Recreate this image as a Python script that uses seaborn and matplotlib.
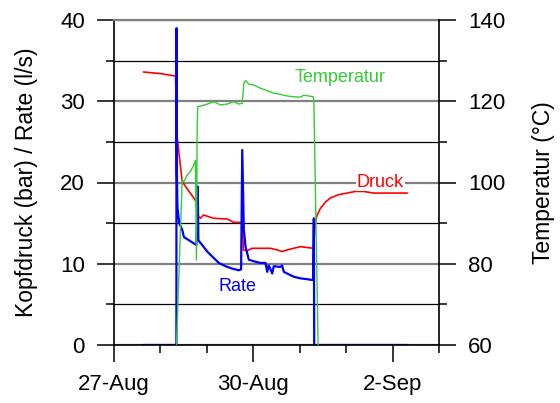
import matplotlib
matplotlib.use("Agg")
import matplotlib.pyplot as plt
import matplotlib.dates as mdates
from matplotlib.ticker import FixedLocator, FixedFormatter
import pandas as pd
import seaborn as sns

# Elapsed logger hours are counted from this instant
start = pd.Timestamp("2007-08-27 00:00")

# Kopfdruck (bar)
druck_hours = [15.25, 24.0, 31.8, 32.7, 35.25, 42.1, 43.7, 44.7, 46.3, 51.4,
               58.7, 61.8, 65.4, 66.3, 66.9, 68.9, 71.4, 75.7, 80.9, 84.4,
               86.9, 89.5, 92.8, 96.4, 99.9, 103.1, 104.2, 105.0, 106.7, 109.3,
               111.9, 116.1, 120.5, 124.8, 129.0, 134.1, 141.2, 151.6]
druck_bar = [33.6, 33.4, 33.1, 25.5, 20.1, 17.8, 15.8, 15.6, 16.0, 15.6,
             15.5, 15.1, 15.1, 14.8, 11.7, 11.6, 11.9, 11.9, 11.9, 11.7,
             11.5, 11.7, 11.9, 12.1, 12.0, 11.9, 15.2, 16.0, 16.8, 17.6,
             18.1, 18.5, 18.7, 18.9, 18.9, 18.7, 18.7, 18.7]

# Förderrate (l/s)
rate_hours = [15.25, 31.8, 32.25, 32.3, 32.5, 32.8, 33.7, 35.25, 36.1, 38.7,
              41.3, 42.6, 43.3, 43.6, 45.6, 48.2, 51.6, 54.2, 57.6, 61.1,
              64.5, 65.7, 66.3, 67.1, 68.0, 69.7, 72.3, 75.7, 78.3, 79.2,
              80.0, 81.8, 82.6, 86.0, 86.9, 87.8, 89.5, 92.9, 96.4, 99.9,
              102.4, 102.9, 103.3, 103.5, 151.6]
rate_ls = [0, 0, 0, 39.0, 21.3, 17.0, 15.0, 14.2, 13.3, 12.9,
           12.5, 12.3, 19.5, 12.9, 12.3, 11.5, 10.7, 10.1, 9.7, 9.4,
           9.2, 9.3, 24.0, 14.2, 12.1, 10.5, 10.3, 10.1, 10.1, 9.0,
           9.8, 8.8, 9.7, 9.6, 9.8, 9.0, 8.8, 8.4, 8.2, 8.1,
           8.0, 8.0, 15.6, 0, 0]

# Temperatur (°C)
temp_hours = [32.3, 35.25, 36.1, 37.8, 39.5, 41.25, 42.1, 42.6, 43.0, 43.3,
              44.7, 48.2, 51.6, 55.0, 58.5, 61.9, 64.5, 66.3, 67.1, 68.0,
              69.7, 72.3, 75.7, 79.2, 82.6, 86.0, 89.5, 92.9, 96.4, 98.1,
              100.7, 103.0, 103.3, 105.5]
temp_c = [60, 100.6, 100.2, 101.8, 102.7, 104.3, 105.5, 80.9, 113.7, 118.7,
          118.8, 119.3, 119.9, 119.1, 119.3, 119.9, 119.3, 119.5, 124.4, 125.1,
          124.2, 124.0, 123.2, 122.6, 122.0, 121.7, 121.3, 121.1, 121.0, 121.5,
          121.3, 121.1, 120.3, 60]

date_ticks = ["2007-08-27", "2007-08-30", "2007-09-02"]
date_labels = ["27-Aug", "30-Aug", "2-Sep"]

RED = "#FF0000"
BLUE = "#0000FF"
GREEN = "#33CC33"


def to_time(hours):
    return start + pd.to_timedelta(hours, unit="h")


sns.set_theme(style="ticks", rc={
    "text.color": "black", "axes.labelcolor": "black",
    "xtick.color": "black", "ytick.color": "black",
    "axes.edgecolor": "black",
})
plt.rcParams["font.family"] = ["Liberation Sans", "DejaVu Sans"]

fig = plt.figure(figsize=(5.6, 4.03), dpi=100)
ax = fig.add_axes([114 / 560, 1 - 345 / 403, 325 / 560, 325 / 403])
ax2 = ax.twinx()

sns.lineplot(x=to_time(druck_hours), y=druck_bar, ax=ax, color=RED, lw=1.2,
             sort=False, estimator=None)
sns.lineplot(x=to_time(rate_hours), y=rate_ls, ax=ax, color=BLUE, lw=1.6,
             sort=False, estimator=None)
sns.lineplot(x=to_time(temp_hours), y=temp_c, ax=ax2, color=GREEN, lw=1.0,
             sort=False, estimator=None)

ax.set_xlim(start, start + pd.Timedelta(days=7))
ax.set_ylim(0, 40)
ax2.set_ylim(60, 140)

# x axis: labelled every third day, small tick each day
ax.xaxis.set_major_locator(FixedLocator(mdates.date2num(pd.to_datetime(date_ticks))))
ax.xaxis.set_major_formatter(FixedFormatter(date_labels))
ax.xaxis.set_minor_locator(mdates.DayLocator())

ax.set_yticks([0, 10, 20, 30, 40])
ax.set_yticks([5, 15, 25, 35], minor=True)
ax2.set_yticks([60, 80, 100, 120, 140])
ax2.set_yticks([70, 90, 110, 130], minor=True)

for a in (ax, ax2):
    a.tick_params(which="major", direction="out", length=12, width=1.1,
                  labelsize=16, pad=9)
    a.tick_params(which="minor", direction="out", length=6, width=1.1)

ax.grid(which="major", axis="y", color="#808080", lw=1.6)
ax.grid(which="minor", axis="y", color="black", lw=0.9)
ax.grid(which="both", axis="x", visible=False)
ax.set_axisbelow(True)

ax.spines["top"].set_color("#808080")
ax.spines["top"].set_linewidth(1.6)
ax.spines["right"].set_visible(False)
for side in ("left", "bottom"):
    ax.spines[side].set_linewidth(1.2)
for side in ("top", "left", "bottom"):
    ax2.spines[side].set_visible(False)
ax2.spines["right"].set_linewidth(1.2)

ax.set_xlabel("")
ax.set_ylabel("Kopfdruck (bar) / Rate (l/s)", fontsize=16.5)
ax2.set_ylabel("Temperatur (°C)", fontsize=16.5)
ax.yaxis.set_label_coords(-0.235, 0.5)
ax2.yaxis.set_label_coords(1.287, 0.5)

ax.text(to_time(116.6), 32.4, "Temperatur", color=GREEN, fontsize=13,
        ha="center", va="baseline")
ax.text(to_time(137.7), 19.5, "Druck", color=RED, fontsize=13,
        ha="center", va="baseline",
        bbox=dict(facecolor="white", edgecolor="none", pad=0.5))
ax.text(to_time(63.6), 6.7, "Rate", color=BLUE, fontsize=13,
        ha="center", va="baseline")

fig.savefig("out.png", dpi=100)
